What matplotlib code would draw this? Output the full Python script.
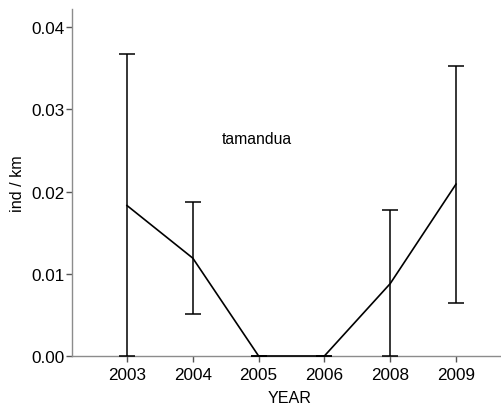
import numpy as np
import matplotlib.pyplot as plt

plt.rcParams['font.family'] = ['Liberation Sans', 'DejaVu Sans']

years = ['2003', '2004', '2005', '2006', '2008', '2009']
density = [0.0183, 0.0119, 0.0, 0.0, 0.0088, 0.0209]
upper = [0.0367, 0.0187, 0.0, 0.0, 0.0178, 0.0353]
lower = [0.0, 0.0051, 0.0, 0.0, 0.0, 0.0064]

x = np.arange(len(years))
dens = np.array(density)
yerr = [dens - np.array(lower), np.array(upper) - dens]

fig = plt.figure(figsize=(5.02, 4.10), dpi=100)
ax = fig.add_axes([0.1434, 0.1293, 0.8685, 0.8463])

ax.errorbar(x, dens, yerr=yerr, color='black', lw=1.2, elinewidth=1.1,
            capsize=5.8, capthick=1.1, clip_on=False, zorder=3)

ax.text(1.98, 0.0264, 'tamandua', ha='center', va='center', fontsize=11.3)

ax.set_xlim(-0.836, 5.79)
ax.set_ylim(0, 0.0422)
ax.set_xticks(x)
ax.set_xticklabels(years)
ax.set_yticks([0.0, 0.01, 0.02, 0.03, 0.04])
ax.set_yticklabels(['0.00', '0.01', '0.02', '0.03', '0.04'])

for s in ['top', 'right']:
    ax.spines[s].set_visible(False)
for s in ['left', 'bottom']:
    ax.spines[s].set_color('#8c8c8c')
    ax.spines[s].set_linewidth(1.0)

ax.tick_params(axis='both', length=4, width=1.0, color='#555555',
               labelsize=12.3, pad=1)
ax.tick_params(axis='x', pad=4)
ax.set_xlabel('YEAR', fontsize=11.6, labelpad=6)
ax.set_ylabel('ind / km', fontsize=11.6, labelpad=5)

fig.savefig('out.png', dpi=100)
